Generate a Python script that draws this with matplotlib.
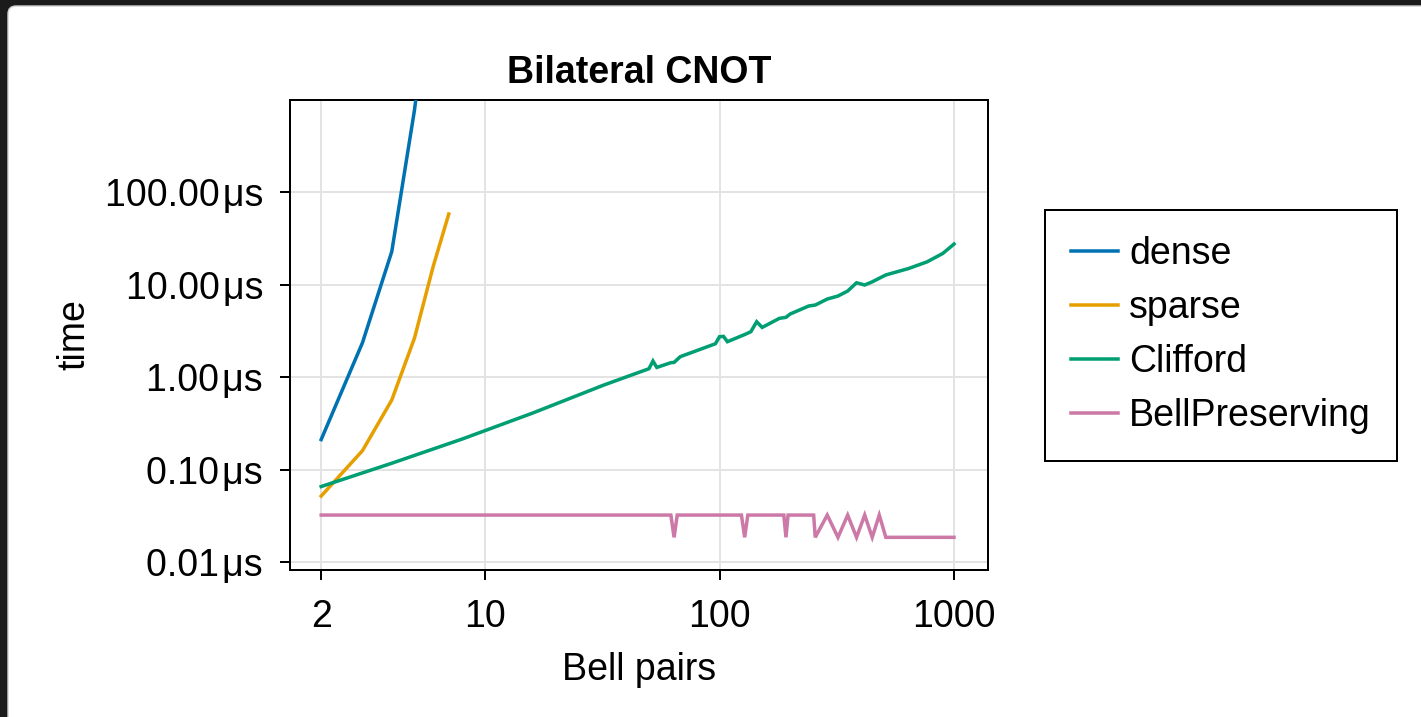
import matplotlib
matplotlib.use('Agg')
import matplotlib.pyplot as plt
from matplotlib.patches import FancyBboxPatch
from matplotlib.transforms import IdentityTransform
from matplotlib.ticker import FixedLocator, FixedFormatter, NullLocator

plt.rcParams['font.family'] = ['Liberation Sans', 'DejaVu Sans']

# ---- data (times in microseconds) ----
dense_n = [2, 3, 4, 5, 6]
dense_t = [0.211, 2.35, 22.7, 770, 30000]

sparse_n = [2, 3, 4, 5, 6, 7]
sparse_t = [0.0517, 0.160, 0.564, 2.64, 15.5, 57.8]

clifford_n = [2, 4, 8, 16, 32, 50, 52, 54, 62, 64, 68, 96, 100, 104, 108, 128, 136,
              144, 152, 180, 192, 200, 240, 256, 288, 320, 352, 384, 416, 448, 512,
              640, 768, 896, 1000]
clifford_t = [0.0655, 0.117, 0.214, 0.409, 0.817, 1.23, 1.49, 1.27, 1.43, 1.44, 1.66,
              2.29, 2.73, 2.75, 2.41, 2.88, 3.09, 3.96, 3.44, 4.31, 4.42, 4.80, 5.86,
              6.0, 6.97, 7.51, 8.51, 10.45, 9.88, 10.7, 12.7, 14.9, 17.6, 21.7, 27.4]

bell_n = [2, 62, 64, 66, 124, 128, 132, 188, 192, 196, 252, 256, 288, 320, 352, 384,
          416, 448, 480, 512, 1000]
bell_t = [0.0322, 0.0322, 0.0185, 0.0322, 0.0322, 0.0185, 0.0322, 0.0322, 0.0185,
          0.0322, 0.0322, 0.0185, 0.0322, 0.0185, 0.0322, 0.0185, 0.0322, 0.0185,
          0.0322, 0.0185, 0.0185]

series_labels = ['dense', 'sparse', 'Clifford', 'BellPreserving']
series_colors = ['#0072B2', '#E69F00', '#009E73', '#CC79A7']

x_ticks = [2, 10, 100, 1000]
x_ticklabels = ['2', '10', '100', '1000']
y_ticks = [0.01, 0.1, 1, 10, 100]
y_ticklabels = [f'{v:.2f}\u200aμs' for v in y_ticks]

# ---- figure ----
W, H = 1421, 717
fig = plt.figure(figsize=(W / 100, H / 100), dpi=100)
fig.patch.set_facecolor('#1b1b1b')
panel = FancyBboxPatch((8, -30), W, H - 6 + 30,
                       boxstyle='round,pad=0,rounding_size=8',
                       transform=IdentityTransform(), facecolor='white',
                       edgecolor='#cfcfcf', linewidth=1.0, zorder=-10)
fig.patches.append(panel)

ax = fig.add_axes([290 / W, 1 - 570 / H, 698 / W, 470 / H], zorder=1)
ax.set_facecolor('white')

PX = 0.72  # points per pixel at dpi 100
FS = 27
lw = 3.5 * PX
for n, t, lab, col in zip([dense_n, sparse_n, clifford_n, bell_n],
                          [dense_t, sparse_t, clifford_t, bell_t],
                          series_labels, series_colors):
    ax.plot(n, t, color=col, lw=lw, label=lab, solid_joinstyle='miter', zorder=3)

ax.set_xscale('log')
ax.set_yscale('log')
ax.set_xlim(10 ** (0.30103 - 0.133), 10 ** (3 + 0.145))
ax.set_ylim(10 ** -2.086, 10 ** 2.995)

ax.xaxis.set_major_locator(FixedLocator(x_ticks))
ax.xaxis.set_major_formatter(FixedFormatter(x_ticklabels))
ax.xaxis.set_minor_locator(NullLocator())
ax.yaxis.set_major_locator(FixedLocator(y_ticks))
ax.yaxis.set_major_formatter(FixedFormatter(y_ticklabels))
ax.yaxis.set_minor_locator(NullLocator())

for s in ax.spines.values():
    s.set_linewidth(2 * PX)
    s.set_color('black')
ax.tick_params(axis='both', which='major', direction='out', length=10 * PX,
               width=2 * PX, labelsize=FS, color='black', labelcolor='black')
ax.tick_params(axis='y', pad=17 * PX)
ax.tick_params(axis='x', pad=19 * PX)
ax.grid(True, which='major', color='#e3e3e3', lw=2 * PX, zorder=1)
ax.set_axisbelow(True)

ax.set_title('Bilateral CNOT', fontsize=FS, fontweight='bold', pad=12)
ax.set_xlabel('Bell pairs', fontsize=FS, labelpad=12)
ax.set_ylabel('time', fontsize=FS, labelpad=9)

leg = fig.legend(loc='upper left', bbox_to_anchor=(1045 / W, 1 - 210 / H),
                 bbox_transform=fig.transFigure, borderaxespad=0, frameon=True,
                 fancybox=False, edgecolor='black', framealpha=1, fontsize=FS,
                 handlelength=1.25, handletextpad=0.3, labelspacing=0.48,
                 borderpad=0.7)
leg.get_frame().set_linewidth(2 * PX)

fig.savefig('out.png', dpi=100, facecolor=fig.get_facecolor())
